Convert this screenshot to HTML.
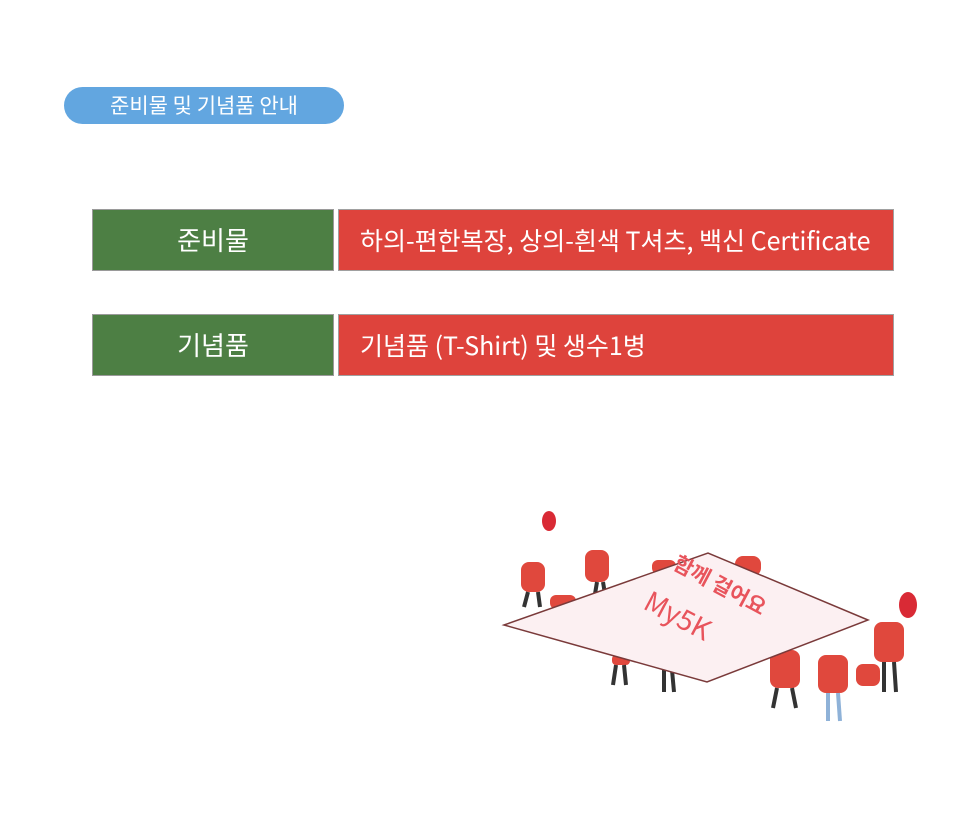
<!DOCTYPE html>
<html><head><meta charset="utf-8"><style>
body{margin:0;width:980px;height:813px;background:#fff;position:relative;overflow:hidden;font-family:"Noto Sans CJK KR","Liberation Sans",sans-serif}
.pill{position:absolute;left:64px;top:87px;width:280px;height:37px;border-radius:19px;background:#62a6e0;color:#fff;font-size:21px;line-height:37px;text-align:center}
.g{position:absolute;left:92px;width:242px;height:61px;background:#4d7f44;border:1px solid #9a9a9a;color:#fff;font-size:26px;line-height:60px;text-align:center;box-sizing:border-box}
.r{position:absolute;left:338px;width:556px;height:62px;background:#de433c;border:1px solid #a0a0a0;color:#fff;font-size:25px;line-height:60px;padding-left:21px;box-sizing:border-box;white-space:nowrap}
</style></head><body>
<div class="pill">준비물 및 기념품 안내</div>
<div class="g" style="top:209px;height:62px">준비물</div>
<div class="r" style="top:209px">하의-편한복장, 상의-흰색 T셔츠, 백신 Certificate</div>
<div class="g" style="top:314px;height:62px">기념품</div>
<div class="r" style="top:314px">기념품 (T-Shirt) 및 생수1병</div>
<svg style="position:absolute;left:0;top:0" width="980" height="813">
<g fill="#e0483d">
<ellipse cx="549" cy="521" rx="7" ry="10" fill="#d92a35"/>
<ellipse cx="908" cy="605" rx="9" ry="13" fill="#d92a35"/>
<rect x="521" y="562" width="24" height="30" rx="8"/>
<rect x="585" y="550" width="24" height="32" rx="8"/>
<rect x="652" y="560" width="24" height="14" rx="6"/>
<rect x="735" y="556" width="26" height="20" rx="8"/>
<rect x="550" y="595" width="26" height="14" rx="6"/>
<rect x="874" y="622" width="30" height="40" rx="8"/>
<rect x="770" y="650" width="30" height="38" rx="8"/>
<rect x="818" y="655" width="30" height="38" rx="8"/>
<rect x="856" y="664" width="24" height="22" rx="7"/>
<rect x="612" y="655" width="18" height="10" rx="4"/>
</g>
<g stroke="#333" stroke-width="4" fill="none">
<path d="M528 592 l-4 15 M538 592 l2 15 M597 582 l-3 18 M603 582 l3 18 M777 688 l-4 20 M792 688 l4 20 M884 662 l0 30 M894 662 l2 30 M664 670 l0 22 M672 670 l2 22 M616 665 l-3 20 M624 665 l2 20"/>
</g>
<g stroke="#8fb2d8" stroke-width="4"><path d="M828 693 l0 28 M838 693 l2 28"/></g>
<polygon points="504,625 708,553 868,620 707,682" fill="#fcf0f2" stroke="#7a3a3a" stroke-width="1.5"/>
<g fill="#e8545c" font-family="Noto Sans CJK KR,sans-serif">
<text x="660" y="585" transform="rotate(28 700 600)" font-size="21" font-weight="bold">함께 걸어요</text>
<text x="630" y="625" transform="rotate(28 670 640)" font-size="28">My5K</text>
</g>
</svg>
</body></html>
